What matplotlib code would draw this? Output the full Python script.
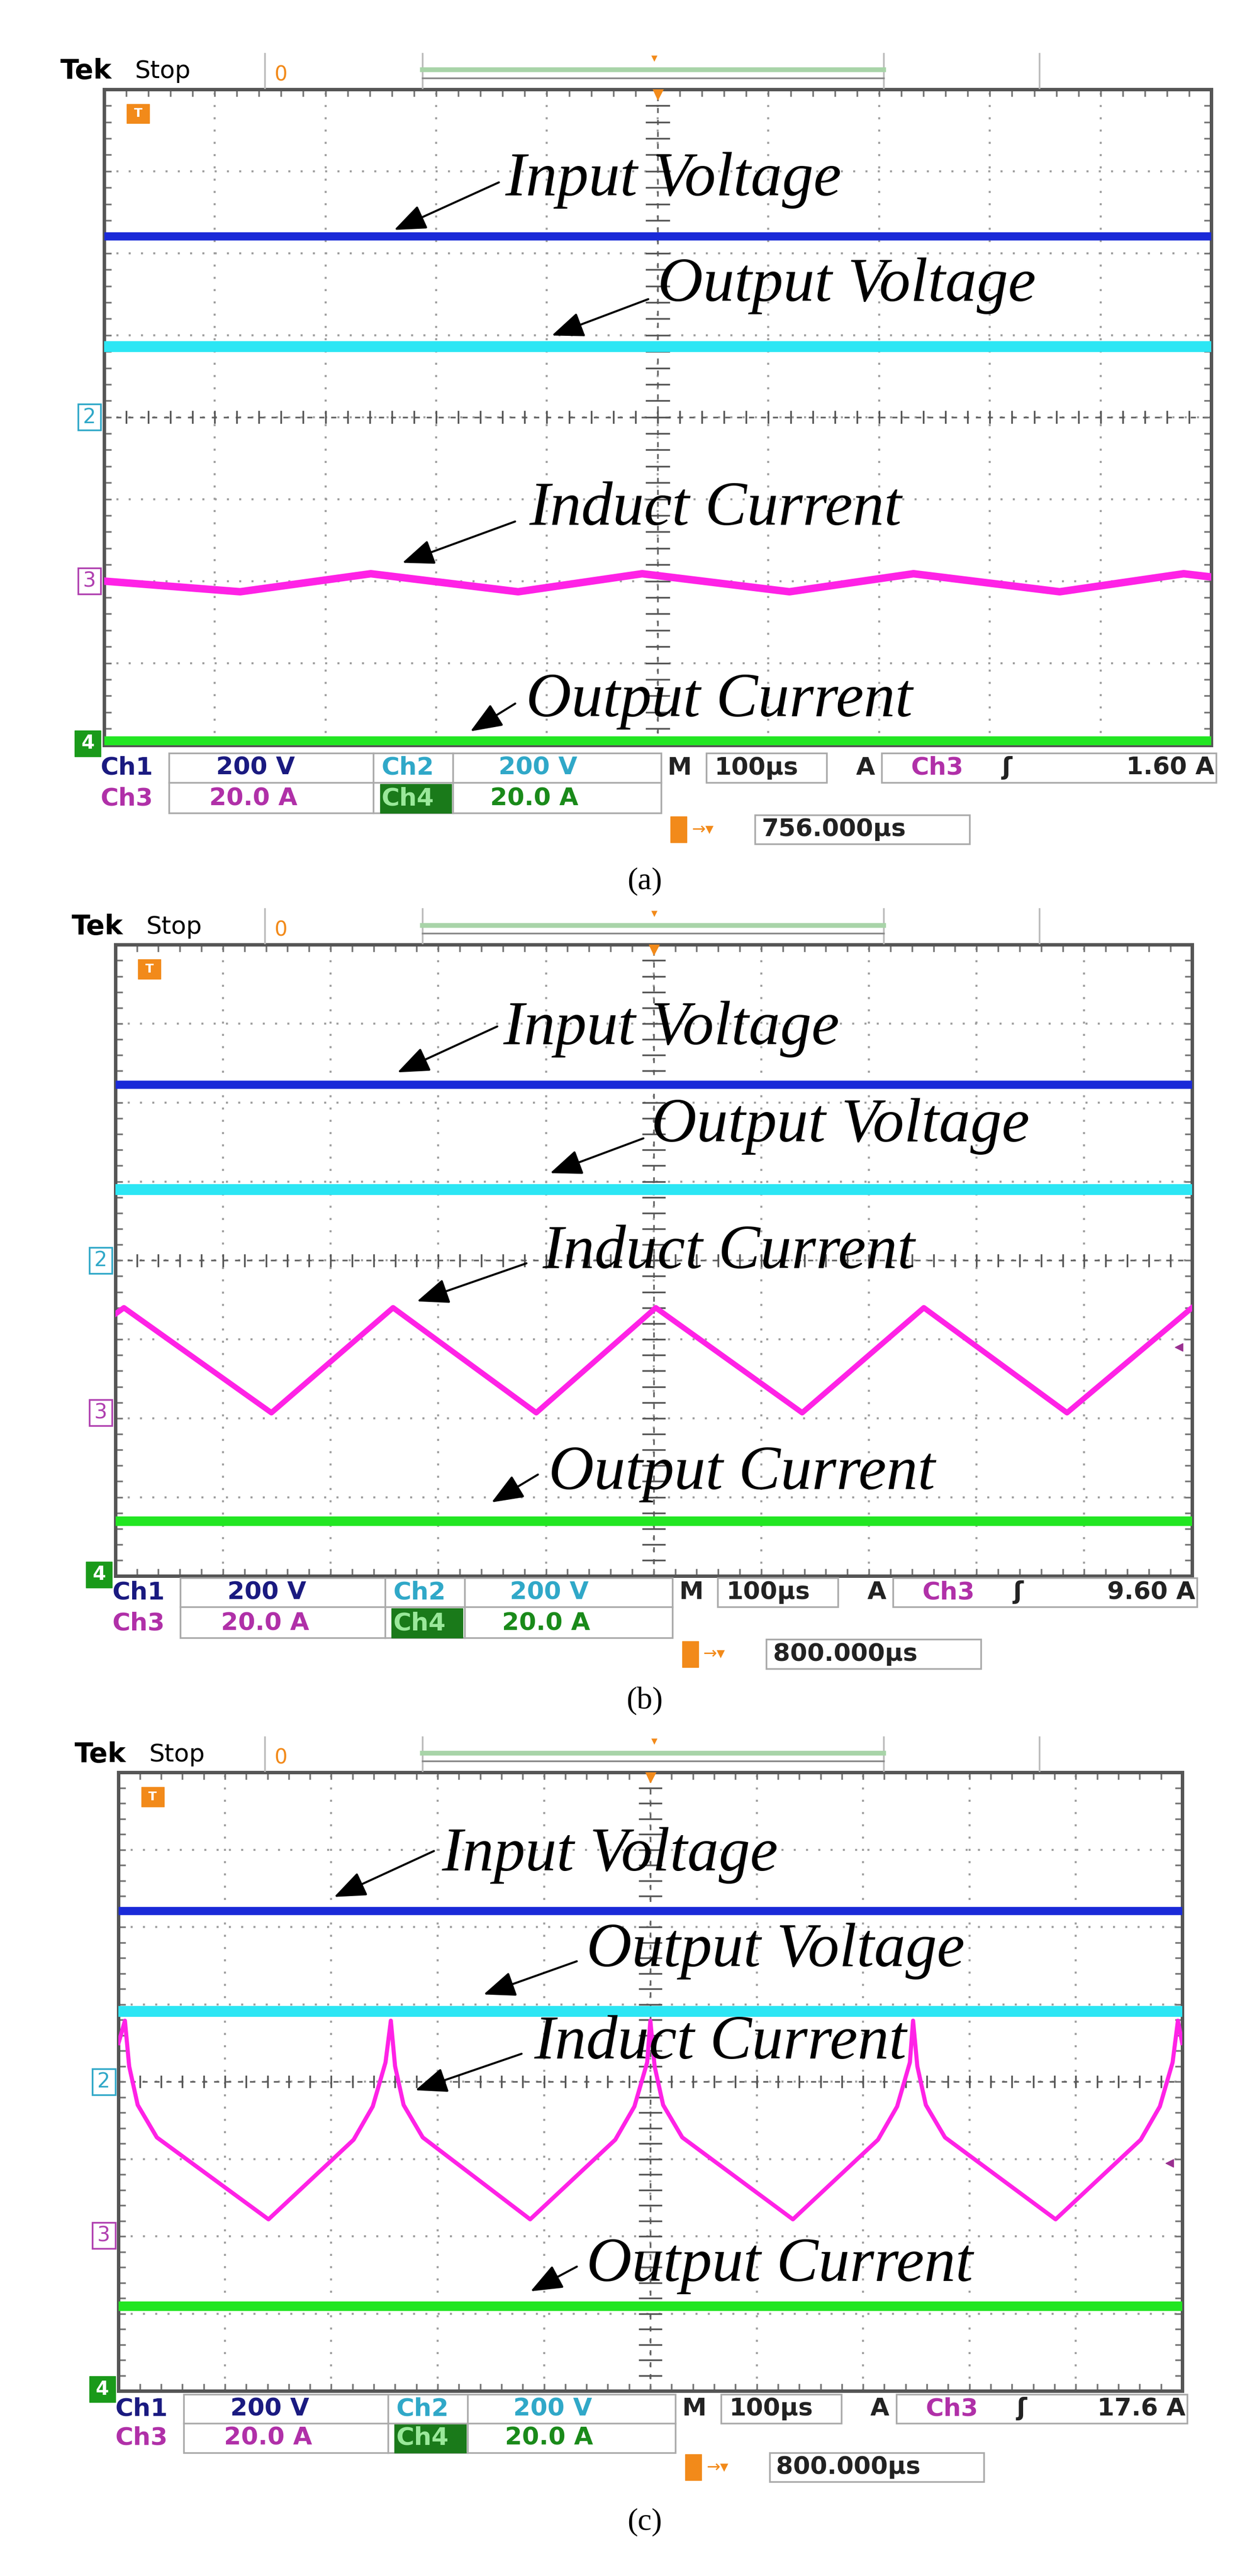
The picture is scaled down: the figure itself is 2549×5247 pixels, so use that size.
import matplotlib
matplotlib.use("Agg")
import matplotlib.pyplot as plt
from matplotlib.patches import Rectangle, FancyArrowPatch

W, H = 771.0, 1587.0  # layout units (page scaled by 1/3.306)

LABELS = ["Input Voltage", "Output Voltage", "Induct Current", "Output Current"]
CAPTIONS = ["(a)", "(b)", "(c)"]
TRIG_LEVEL = ["1.60 A", "9.60 A", "17.6 A"]
TRIG_TIME = ["756.000µs", "800.000µs", "800.000µs"]

# DC trace levels (divisions from top of the 8-division screen)
INPUT_V = [1.79, 1.77, 1.79]
OUTPUT_V = [3.14, 3.10, 3.09]
OUTPUT_I = [7.95, 7.30, 6.90]
CH3_MARK = [6.0, 5.93, 5.99]

# inductor current vertices (x in div, y in div from top)
IND_A_X = [0, 1.23, 2.41, 3.74, 4.86, 6.19, 7.31, 8.63, 9.75, 10]
IND_A_Y = [6.0, 6.13, 5.91, 6.13, 5.91, 6.13, 5.91, 6.13, 5.91, 5.95]
IND_B_X = [0, 0.08, 1.45, 2.58, 3.91, 5.02, 6.38, 7.51, 8.84, 10]
IND_B_Y = [4.68, 4.6, 5.93, 4.6, 5.93, 4.6, 5.93, 4.6, 5.93, 4.6]
IND_C_X = [0.0, 0.06, 0.10, 0.18, 0.36, 1.41, 2.21, 2.39, 2.51, 2.56,
           2.60, 2.68, 2.86, 3.87, 4.67, 4.85, 4.97, 5.0,
           5.04, 5.12, 5.30, 6.34, 7.14, 7.32, 7.44, 7.47,
           7.51, 7.59, 7.77, 8.81, 9.61, 9.79, 9.91, 9.96, 10.0]
IND_C_Y = [3.5, 3.21, 3.8, 4.3, 4.72, 5.78, 4.75, 4.32, 3.75, 3.21,
           3.8, 4.3, 4.72, 5.78, 4.75, 4.32, 3.75, 3.21,
           3.8, 4.3, 4.72, 5.78, 4.75, 4.32, 3.75, 3.21,
           3.8, 4.3, 4.72, 5.78, 4.75, 4.32, 3.75, 3.21, 3.5]
IND_X = [IND_A_X, IND_B_X, IND_C_X]
IND_Y = [IND_A_Y, IND_B_Y, IND_C_Y]
IND_LW = [11, 8, 6]

# screen boxes (left, top, right, bottom) in layout units
BOXES = [(64, 55, 746, 459), (71, 582, 734, 971), (73, 1092, 728, 1473)]
STATUS_Y = [(473, 492, 511), (981, 1000, 1019), (1484, 1502, 1520)]
CAPTION_Y = [543, 1048, 1554]
LAB_POS = [
    [(311, 111), (405, 176), (326, 314), (324, 432)],
    [(310, 634), (401, 694), (334, 772), (338, 908)],
    [(272, 1143), (361, 1202), (329, 1259), (361, 1396)],
]
ARROWS = [
    [((308, 112), (242, 142)), ((400, 184), (339, 207)), ((318, 321), (247, 347)), ((318, 433), (289, 451))],
    [((307, 632), (244, 661)), ((397, 701), (338, 723)), ((325, 778), (256, 802)), ((332, 908), (302, 926))],
    [((268, 1140), (205, 1169)), ((356, 1208), (297, 1229)), ((322, 1265), (255, 1288)), ((356, 1396), (326, 1412))],
]

C_IN, C_OV, C_IND, C_OI = "#1a2ad8", "#2ce6f4", "#ff22e6", "#22e622"
ORANGE = "#f28a1a"

fig = plt.figure(figsize=(25.49, 52.47), dpi=100)


def fx(x):
    return x / W


def fy(y):
    return 1 - y / H


def ftext(x, y, s, **kw):
    fig.text(fx(x), fy(y), s, **kw)


def frect(x0, y0, x1, y1, **kw):
    fig.patches.append(Rectangle((fx(x0), fy(y1)), fx(x1) - fx(x0), fy(y0) - fy(y1),
                                 transform=fig.transFigure, **kw))


def fline(xs, ys, **kw):
    fig.add_artist(plt.Line2D([fx(x) for x in xs], [fy(y) for y in ys],
                              transform=fig.transFigure, **kw))


mono = dict(family="DejaVu Sans", fontsize=36, va="center", fontweight="bold")
serif = dict(family="Liberation Serif", style="italic", fontsize=92, va="center")

for i, (l, t, r, b) in enumerate(BOXES):
    ax = fig.add_axes([fx(l), fy(b), fx(r) - fx(l), fy(t) - fy(b)])
    ax.set_xlim(0, 10)
    ax.set_ylim(8, 0)
    ax.set_xticks([])
    ax.set_yticks([])
    for s in ax.spines.values():
        s.set_linewidth(5)
        s.set_color("#555555")
    for k in range(1, 10):
        ax.axvline(k, color="#a0a0a0", lw=3, ls=(0, (1, 5)), zorder=1)
    for k in range(1, 8):
        ax.axhline(k, color="#a0a0a0", lw=3, ls=(0, (1, 5)), zorder=1)
    ax.axvline(5, color="#666666", lw=2.5, ls=(0, (3, 4)), zorder=1)
    ax.axhline(4, color="#666666", lw=2.5, ls=(0, (3, 4)), zorder=1)
    for k in range(1, 50):
        ax.plot([k * 0.2, k * 0.2], [3.93, 4.07], color="#555555", lw=2.5, zorder=1)
        ax.plot([k * 0.2, k * 0.2], [0, 0.08], color="#777777", lw=2.5, zorder=1)
        ax.plot([k * 0.2, k * 0.2], [7.92, 8], color="#777777", lw=2.5, zorder=1)
    for k in range(1, 40):
        ax.plot([4.9, 5.1], [k * 0.2, k * 0.2], color="#555555", lw=2.5, zorder=1)
        ax.plot([0, 0.06], [k * 0.2, k * 0.2], color="#777777", lw=2.5, zorder=1)
        ax.plot([9.94, 10], [k * 0.2, k * 0.2], color="#777777", lw=2.5, zorder=1)

    ax.plot([0, 10], [INPUT_V[i]] * 2, color=C_IN, lw=12, solid_capstyle="butt", zorder=3)
    ax.plot([0, 10], [OUTPUT_V[i]] * 2, color=C_OV, lw=16, solid_capstyle="butt", zorder=3)
    ax.plot(IND_X[i], IND_Y[i], color=C_IND, lw=IND_LW[i], zorder=3)
    ax.plot([0, 10], [OUTPUT_I[i]] * 2, color=C_OI, lw=14, solid_capstyle="butt", zorder=3)
    ax.plot([5], [0.05], marker="v", color=ORANGE, ms=18, zorder=4)
    if i == 1:
        ax.plot([9.88], [5.1], marker="<", color="#9a3090", ms=11, zorder=4)
    if i == 2:
        ax.plot([9.88], [5.05], marker="<", color="#9a3090", ms=11, zorder=4)

    # header
    ftext(l - 27, t - 11, "Tek", family="DejaVu Sans", fontsize=40, fontweight="bold", va="center")
    ftext(l + 19, t - 11, "Stop", family="DejaVu Sans", fontsize=36, va="center")
    for sx in (163, 260, 544, 640):
        fline([sx, sx], [t - 22, t - 1], color="#bbbbbb", lw=2.5)
    ftext(173, t - 9, "0", color=ORANGE, fontsize=30, va="center", ha="center")
    fline([260, 544], [t - 12, t - 12], color="#a8d4a8", lw=7)
    fline([260, 544], [t - 7, t - 7], color="#888888", lw=2.5)
    ftext(403, t - 19, "▾", color=ORANGE, fontsize=18, ha="center", va="center")
    frect(l + 14, t + 9, l + 28, t + 21, color=ORANGE)
    ftext(l + 21, t + 15, "T", color="white", fontsize=18, ha="center", va="center",
          fontweight="bold")

    # channel markers on the left
    def yb(d):
        return t + d * (b - t) / 8
    frect(l - 16, yb(4) - 8, l - 2, yb(4) + 8, fill=False, ec="#30a8c8", lw=2.5)
    ftext(l - 9, yb(4), "2", color="#30a8c8", fontsize=30, ha="center", va="center")
    frect(l - 16, yb(CH3_MARK[i]) - 8, l - 2, yb(CH3_MARK[i]) + 8, fill=False, ec="#b040b0", lw=2.5)
    ftext(l - 9, yb(CH3_MARK[i]), "3", color="#b040b0", fontsize=30, ha="center", va="center")
    frect(l - 18, b - 9, l - 2, b + 7, color="#1a9a1a")
    ftext(l - 10, b - 1, "4", color="white", fontsize=28, ha="center", va="center",
          fontweight="bold")

    # labels and arrows
    for j in range(4):
        ftext(LAB_POS[i][j][0], LAB_POS[i][j][1], LABELS[j], **serif)
        (x0, y0), (x1, y1) = ARROWS[i][j]
        fig.add_artist(FancyArrowPatch(
            (fx(x0), fy(y0)), (fx(x1), fy(y1)), transform=fig.transFigure,
            arrowstyle="-|>,head_length=2.0,head_width=0.8", color="black", lw=3,
            mutation_scale=20))

    # status rows
    dx = l - 71
    r1, r2, r3 = STATUS_Y[i]
    frect(111 + dx, r1 - 9, 414 + dx, r2 + 9, fill=False, ec="#aaaaaa", lw=2.5)
    fline([111 + dx, 414 + dx], [r1 + 9, r1 + 9], color="#aaaaaa", lw=2.5)
    fline([237 + dx, 237 + dx], [r1 - 9, r2 + 9], color="#aaaaaa", lw=2.5)
    fline([286 + dx, 286 + dx], [r1 - 9, r2 + 9], color="#aaaaaa", lw=2.5)
    ftext(69 + dx, r1, "Ch1", color="#1a1a80", **mono)
    ftext(140 + dx, r1, "200 V", color="#1a1a80", **mono)
    ftext(242 + dx, r1, "Ch2", color="#30a8c8", **mono)
    ftext(314 + dx, r1, "200 V", color="#30a8c8", **mono)
    ftext(418 + dx, r1, "M", color="#222222", **mono)
    frect(442 + dx, r1 - 9, 516 + dx, r1 + 9, fill=False, ec="#aaaaaa", lw=2.5)
    ftext(447 + dx, r1, "100µs", color="#222222", **mono)
    ftext(534 + dx, r1, "A", color="#222222", **mono)
    frect(550 + dx, r1 - 9, r + 3, r1 + 9, fill=False, ec="#aaaaaa", lw=2.5)
    ftext(568 + dx, r1, "Ch3", color="#b030a8", **mono)
    ftext(624 + dx, r1, "ʃ", color="#222222", **mono)
    ftext(r + 2, r1, TRIG_LEVEL[i], color="#222222", ha="right", **mono)
    ftext(69 + dx, r2, "Ch3", color="#b030a8", **mono)
    ftext(136 + dx, r2, "20.0 A", color="#b030a8", **mono)
    frect(241 + dx, r2 - 9, 285 + dx, r2 + 9, color="#1a7a1a")
    ftext(242 + dx, r2, "Ch4", color="#9ae89a", **mono)
    ftext(309 + dx, r2, "20.0 A", color="#1a8a1a", **mono)
    frect(420 + dx, r3 - 8, 430 + dx, r3 + 8, color=ORANGE)
    ftext(433 + dx, r3, "→▾", color=ORANGE, fontsize=24, va="center")
    frect(472 + dx, r3 - 9, 604 + dx, r3 + 9, fill=False, ec="#aaaaaa", lw=2.5)
    ftext(476 + dx, r3, TRIG_TIME[i], color="#222222", **mono)

    ftext(397, CAPTION_Y[i], CAPTIONS[i], family="Liberation Serif",
          fontsize=46, ha="center", va="center")

fig.savefig("out.png", dpi=100, facecolor="white")
